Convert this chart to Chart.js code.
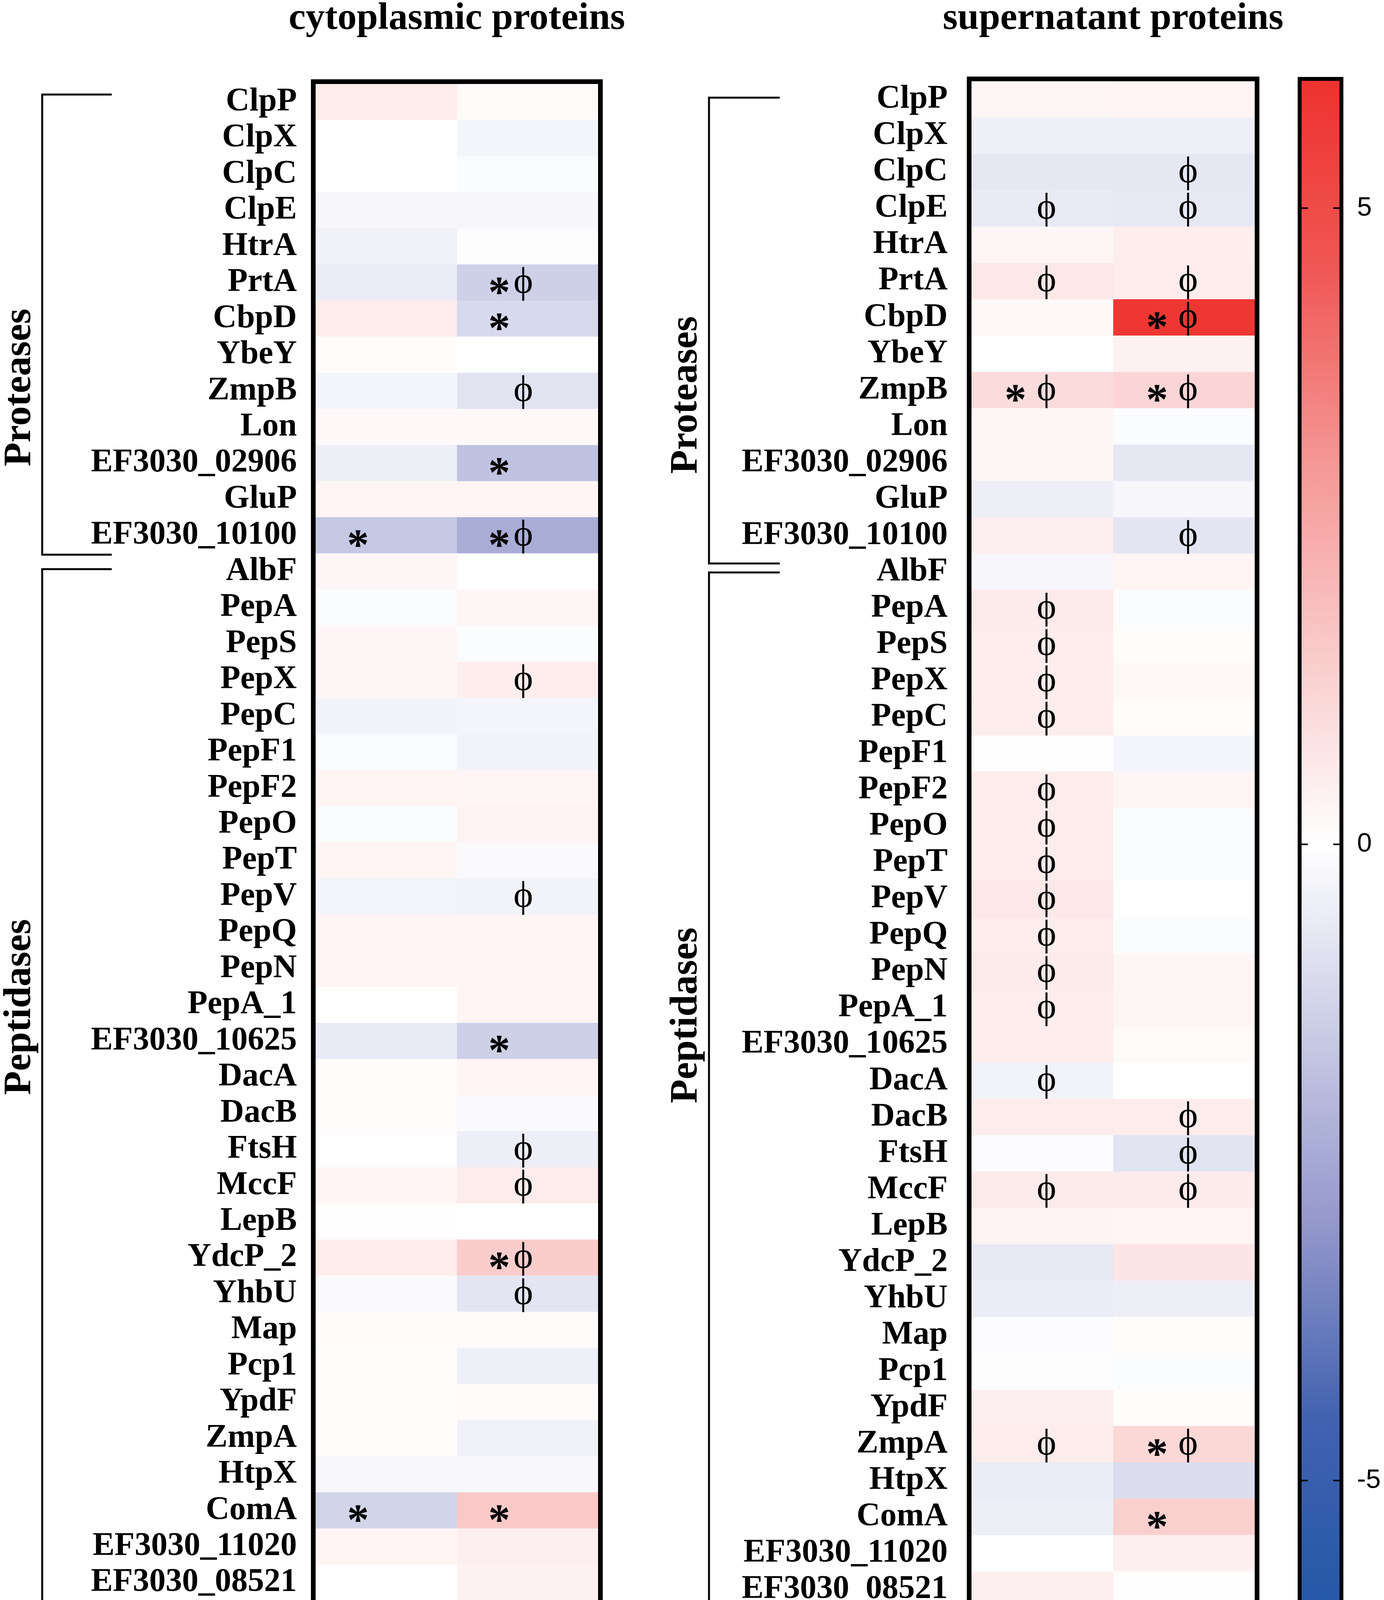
<!DOCTYPE html>
<html>
<head>
<meta charset="utf-8">
<title>Proteases and peptidases heatmap</title>
<script src="https://cdn.jsdelivr.net/npm/chart.js@4.4.1/dist/chart.umd.min.js"></script>
<style>
    html, body { margin: 0; padding: 0; background: #fff; }
    body { width: 3543px; height: 4323px; position: relative; overflow: hidden; }
    canvas { position: absolute; top: 0; }
</style>
</head>
<body>
<canvas id="cytoChart" width="1620" height="4323" style="left:0px;width:1620px;height:4323px"></canvas>
<canvas id="supChart" width="1680" height="4323" style="left:1620px;width:1680px;height:4323px"></canvas>
<canvas id="scaleChart" width="243" height="4323" style="left:3300px;width:243px;height:4323px"></canvas>
<script>
// --- Data (log2 fold change) ---
const proteins = ['ClpP', 'ClpX', 'ClpC', 'ClpE', 'HtrA', 'PrtA', 'CbpD', 'YbeY', 'ZmpB', 'Lon',
    'EF3030_02906', 'GluP', 'EF3030_10100', 'AlbF', 'PepA', 'PepS', 'PepX', 'PepC', 'PepF1', 'PepF2',
    'PepO', 'PepT', 'PepV', 'PepQ', 'PepN', 'PepA_1', 'EF3030_10625', 'DacA', 'DacB', 'FtsH',
    'MccF', 'LepB', 'YdcP_2', 'YhbU', 'Map', 'Pcp1', 'YpdF', 'ZmpA', 'HtpX', 'ComA',
    'EF3030_11020', 'EF3030_08521'];

const groupNames = ['Proteases', 'Peptidases'];
const groupFirst = ['ClpP', 'AlbF'];
const groupLast = ['EF3030_10100', 'EF3030_08521'];

const conditions = ['0.6/0.4', '1.0/0.4'];

// cytoplasmic proteins
const cyto06 = [0.55, 0, 0, -0.25, -0.4, -0.55, 0.55, 0.1, -0.3, 0.2,
    -0.5, 0.3, -1.6, 0.25, -0.1, 0.25, 0.25, -0.35, -0.1, 0.3,
    -0.1, 0.3, -0.3, 0.3, 0.3, 0, -0.6, 0.1, 0.1, 0.02,
    0.3, 0.05, 0.55, -0.15, 0.12, 0.1, 0.1, 0.1, -0.2, -1.25,
    0.3, 0.02];
const cyto10 = [0.15, -0.3, -0.1, -0.25, -0.05, -1.35, -1.1, 0, -0.8, 0.2,
    -1.75, 0.3, -2.4, 0, 0.25, -0.1, 0.5, -0.3, -0.35, 0.25,
    0.35, -0.15, -0.35, 0.3, 0.3, 0.3, -1.35, 0.3, -0.15, -0.5,
    0.55, 0, 1.45, -0.75, 0.12, -0.45, 0.12, -0.4, -0.2, 1.55,
    0.45, 0.4];

// supernatant proteins
const sup06 = [0.25, -0.45, -0.7, -0.6, 0.25, 0.65, 0.2, 0.02, 1.0, 0.25,
    0.25, -0.5, 0.45, -0.25, 0.6, 0.55, 0.5, 0.55, 0.06, 0.55,
    0.55, 0.55, 0.65, 0.55, 0.6, 0.55, 0.55, -0.35, 0.55, -0.12,
    0.6, 0.35, -0.65, -0.55, -0.12, -0.05, 0.45, 0.55, -0.55, -0.5,
    0.02, 0.45];
const sup10 = [0.3, -0.45, -0.7, -0.65, 0.5, 0.55, 5.8, 0.4, 1.2, -0.1,
    -0.7, -0.25, -0.75, 0.3, -0.1, 0.1, 0.2, 0.1, -0.3, 0.25,
    -0.1, -0.1, 0, -0.1, 0.25, 0.25, 0.15, 0.02, 0.55, -0.8,
    0.6, 0.3, 0.75, -0.5, 0.1, -0.1, 0.1, 1.15, -1.0, 1.35,
    0.45, 0.05];

// significance marks (* and ϕ) per column
const cytoStar06 = ['EF3030_10100', 'ComA'];
const cytoStar10 = ['PrtA', 'CbpD', 'EF3030_02906', 'EF3030_10100', 'EF3030_10625', 'YdcP_2', 'ComA'];
const cytoPhi06 = [];
const cytoPhi10 = ['PrtA', 'ZmpB', 'EF3030_10100', 'PepX', 'PepV', 'FtsH', 'MccF', 'YdcP_2', 'YhbU'];

const supStar06 = ['ZmpB'];
const supStar10 = ['CbpD', 'ZmpB', 'ZmpA', 'ComA'];
const supPhi06 = ['ClpE', 'PrtA', 'ZmpB', 'PepA', 'PepS', 'PepX', 'PepC', 'PepF2', 'PepO', 'PepT',
    'PepV', 'PepQ', 'PepN', 'PepA_1', 'DacA', 'MccF', 'ZmpA'];
const supPhi10 = ['ClpC', 'ClpE', 'PrtA', 'CbpD', 'ZmpB', 'EF3030_10100', 'DacB', 'FtsH', 'MccF', 'ZmpA'];

// colour scale
const scaleMin = -6;
const scaleMax = 6;
const scaleTicks = [-5, 0, 5];

// --- Colour map ---
const colorStops = [
    { v: -6, c: [35, 88, 168] },
    { v: -4.5, c: [66, 98, 176] },
    { v: -3, c: [147, 151, 203] },
    { v: 0, c: [255, 255, 255] },
    { v: 3, c: [244, 151, 149] },
    { v: 4.5, c: [240, 88, 85] },
    { v: 6, c: [238, 50, 46] }
];

function valueToColor(v) {
    const val = Math.max(scaleMin, Math.min(scaleMax, v));
    for (let i = 0; i < colorStops.length - 1; i++) {
        const a = colorStops[i], b = colorStops[i + 1];
        if (val >= a.v && val <= b.v) {
            const t = (val - a.v) / (b.v - a.v);
            const c = a.c.map((ch, k) => Math.round(ch + (b.c[k] - ch) * t));
            return `rgb(${c[0]},${c[1]},${c[2]})`;
        }
    }
    return '#fff';
}

const SERIF = '"Liberation Serif", "Times New Roman", Times, serif';
const SANS = '"Liberation Sans", Arial, Helvetica, sans-serif';

function fillCentered(ctx, text, font, cx, cy) {
    ctx.font = font;
    const m = ctx.measureText(text);
    ctx.textAlign = 'center';
    ctx.textBaseline = 'alphabetic';
    ctx.fillText(text, cx, cy + (m.actualBoundingBoxAscent - m.actualBoundingBoxDescent) / 2);
}

// --- Plugin: frame, marks, title, column labels, group brackets ---
const heatDecor = {
    id: 'heatDecor',
    afterDatasetsDraw(chart, args, opts) {
        const { ctx, chartArea: area, scales: { x, y } } = chart;
        const colW = x.getPixelForValue(1) - x.getPixelForValue(0);
        ctx.save();

        ctx.strokeStyle = '#000';
        ctx.lineWidth = 12;
        ctx.strokeRect(area.left - 6, area.top - 6, area.right - area.left + 12, area.bottom - area.top + 12);

        ctx.fillStyle = '#000';
        opts.stars.forEach((names, col) => {
            names.forEach(name => {
                const row = proteins.indexOf(name);
                fillCentered(ctx, '*', 'bold 112px ' + SERIF,
                    x.getPixelForValue(col + 0.5) + opts.starDx * colW, y.getPixelForValue(row) + 8);
            });
        });
        opts.phis.forEach((names, col) => {
            names.forEach(name => {
                const row = proteins.indexOf(name);
                fillCentered(ctx, 'ϕ', '400 95px ' + SERIF,
                    x.getPixelForValue(col + 0.5) + opts.phiDx * colW, y.getPixelForValue(row) + 3);
            });
        });
        ctx.restore();
    },
    afterDraw(chart, args, opts) {
        const { ctx, chartArea: area, scales: { x, y } } = chart;
        const rowH = y.getPixelForValue(1) - y.getPixelForValue(0);
        ctx.save();
        ctx.fillStyle = '#000';
        ctx.strokeStyle = '#000';

        // panel title
        ctx.font = 'bold 98px ' + SERIF;
        ctx.textAlign = 'center';
        ctx.textBaseline = 'alphabetic';
        ctx.fillText(opts.title, (area.left + area.right) / 2, 74);

        // column labels: OD600 over ratio
        conditions.forEach((cond, i) => {
            const cx = x.getPixelForValue(i + 0.5);
            const base1 = chart.height - 110;
            ctx.font = 'bold 84px ' + SERIF;
            const wOD = ctx.measureText('OD').width;
            ctx.font = 'bold 60px ' + SERIF;
            const wSub = ctx.measureText('600').width;
            const start = cx - (wOD + wSub) / 2;
            ctx.textAlign = 'left';
            ctx.font = 'bold 84px ' + SERIF;
            ctx.fillText('OD', start, base1);
            ctx.font = 'bold 60px ' + SERIF;
            ctx.fillText('600', start + wOD, base1 + 16);
            ctx.textAlign = 'center';
            ctx.font = 'bold 84px ' + SERIF;
            ctx.fillText(cond, cx, chart.height - 10);
        });

        // group brackets and labels
        ctx.lineWidth = 5;
        groupNames.forEach((name, g) => {
            const top = y.getPixelForValue(proteins.indexOf(groupFirst[g])) - rowH / 2 + opts.bracketTop[g];
            const bottom = y.getPixelForValue(proteins.indexOf(groupLast[g])) + rowH / 2 + opts.bracketBottom[g];
            const bx = area.left - opts.bracketX;
            const ex = area.left - opts.bracketEnd;
            ctx.beginPath();
            ctx.moveTo(ex, top);
            ctx.lineTo(bx, top);
            ctx.lineTo(bx, bottom);
            ctx.lineTo(ex, bottom);
            ctx.stroke();

            ctx.save();
            ctx.translate(area.left - opts.labelX, (top + bottom) / 2 + opts.labelShift[g]);
            ctx.rotate(-Math.PI / 2);
            ctx.font = 'bold 100px ' + SERIF;
            ctx.textAlign = 'center';
            ctx.textBaseline = 'alphabetic';
            ctx.fillText(name, 0, 0);
            ctx.restore();
        });
        ctx.restore();
    }
};

function createHeatmap(canvasId, col06, col10, decor, axisWidth, labelPad, padding) {
    const ctx = document.getElementById(canvasId);
    return new Chart(ctx, {
        type: 'bar',
        data: {
            labels: proteins,
            datasets: [
                {
                    label: conditions[0],
                    data: col06.map(() => [0, 1]),
                    backgroundColor: col06.map(valueToColor)
                },
                {
                    label: conditions[1],
                    data: col10.map(() => [1, 2]),
                    backgroundColor: col10.map(valueToColor)
                }
            ]
        },
        options: {
            indexAxis: 'y',
            responsive: false,
            animation: false,
            devicePixelRatio: 1,
            events: [],
            layout: { padding: padding },
            datasets: {
                bar: { grouped: false, barPercentage: 1, categoryPercentage: 1, borderWidth: 0 }
            },
            scales: {
                x: { type: 'linear', min: 0, max: 2, display: false },
                y: {
                    type: 'category',
                    grid: { display: false, drawTicks: false, tickLength: 0 },
                    border: { display: false },
                    afterFit: scale => { scale.width = axisWidth; },
                    ticks: {
                        autoSkip: false,
                        maxRotation: 0,
                        padding: labelPad,
                        color: '#000',
                        font: { family: SERIF, size: 84, weight: 'bold' }
                    }
                }
            },
            plugins: {
                legend: { display: false },
                tooltip: { enabled: false },
                heatDecor: decor
            }
        },
        plugins: [heatDecor]
    });
}

// --- Plugin for the colour bar: frame, inner tick marks, end strip ---
const scaleDecor = {
    id: 'scaleDecor',
    afterDatasetsDraw(chart) {
        const { ctx, chartArea: area, scales: { y } } = chart;
        ctx.save();
        ctx.fillStyle = valueToColor(scaleMax);
        ctx.fillRect(area.left, area.bottom - 6, area.right - area.left, 6);
        ctx.strokeStyle = '#000';
        ctx.lineWidth = 10;
        ctx.strokeRect(area.left - 5, area.top - 5, area.right - area.left + 10, area.bottom - area.top + 10);
        ctx.lineWidth = 4;
        scaleTicks.forEach(v => {
            const py = y.getPixelForValue(v);
            ctx.beginPath();
            ctx.moveTo(area.left, py);
            ctx.lineTo(area.left + 16, py);
            ctx.moveTo(area.right - 16, py);
            ctx.lineTo(area.right, py);
            ctx.stroke();
        });
        ctx.restore();
    }
};

function createColorScale() {
    const ctx = document.getElementById('scaleChart');
    return new Chart(ctx, {
        type: 'bar',
        data: {
            labels: ['log2FC'],
            datasets: [{
                data: [[scaleMin, scaleMax]],
                backgroundColor: context => {
                    const chart = context.chart;
                    if (!chart.chartArea) return '#fff';
                    const y = chart.scales.y;
                    const top = y.getPixelForValue(scaleMax);
                    const bottom = y.getPixelForValue(scaleMin);
                    const grad = chart.ctx.createLinearGradient(0, top, 0, bottom);
                    colorStops.forEach(s => {
                        grad.addColorStop((scaleMax - s.v) / (scaleMax - scaleMin), valueToColor(s.v));
                    });
                    return grad;
                },
                barPercentage: 1,
                categoryPercentage: 1,
                borderWidth: 0
            }]
        },
        options: {
            responsive: false,
            animation: false,
            devicePixelRatio: 1,
            events: [],
            layout: { padding: { left: 32, top: 207, bottom: 207, right: 0 } },
            scales: {
                x: { display: false },
                y: {
                    type: 'linear',
                    position: 'right',
                    min: scaleMin,
                    max: scaleMax,
                    afterBuildTicks: scale => { scale.ticks = scaleTicks.map(v => ({ value: v })); },
                    afterFit: scale => { scale.width = 114; },
                    grid: { display: false, drawTicks: false, tickLength: 0 },
                    border: { display: false },
                    ticks: {
                        padding: 45,
                        color: '#000',
                        font: { family: SANS, size: 68 }
                    }
                }
            },
            plugins: {
                legend: { display: false },
                tooltip: { enabled: false }
            }
        },
        plugins: [scaleDecor]
    });
}

createHeatmap('cytoChart', cyto06, cyto10, {
    title: 'cytoplasmic proteins',
    stars: [cytoStar06, cytoStar10],
    phis: [cytoPhi06, cytoPhi10],
    starDx: -0.2,
    phiDx: -0.03,
    bracketX: 700,
    bracketEnd: 522,
    bracketTop: [27, 40],
    bracketBottom: [3, 53],
    labelX: 731,
    labelShift: [161, -226]
}, 808, 48, { left: 0, top: 215, right: 89, bottom: 225 });

createHeatmap('supChart', sup06, sup10, {
    title: 'supernatant proteins',
    stars: [supStar06, supStar10],
    phis: [supPhi06, supPhi10],
    starDx: -0.19,
    phiDx: 0.03,
    bracketX: 672,
    bracketEnd: 491,
    bracketTop: [42, 48],
    bracketBottom: [25, 61],
    labelX: 704,
    labelShift: [165, -222]
}, 867, 61, { left: 0, top: 208, right: 88, bottom: 207 });

createColorScale();
</script>
</body>
</html>
